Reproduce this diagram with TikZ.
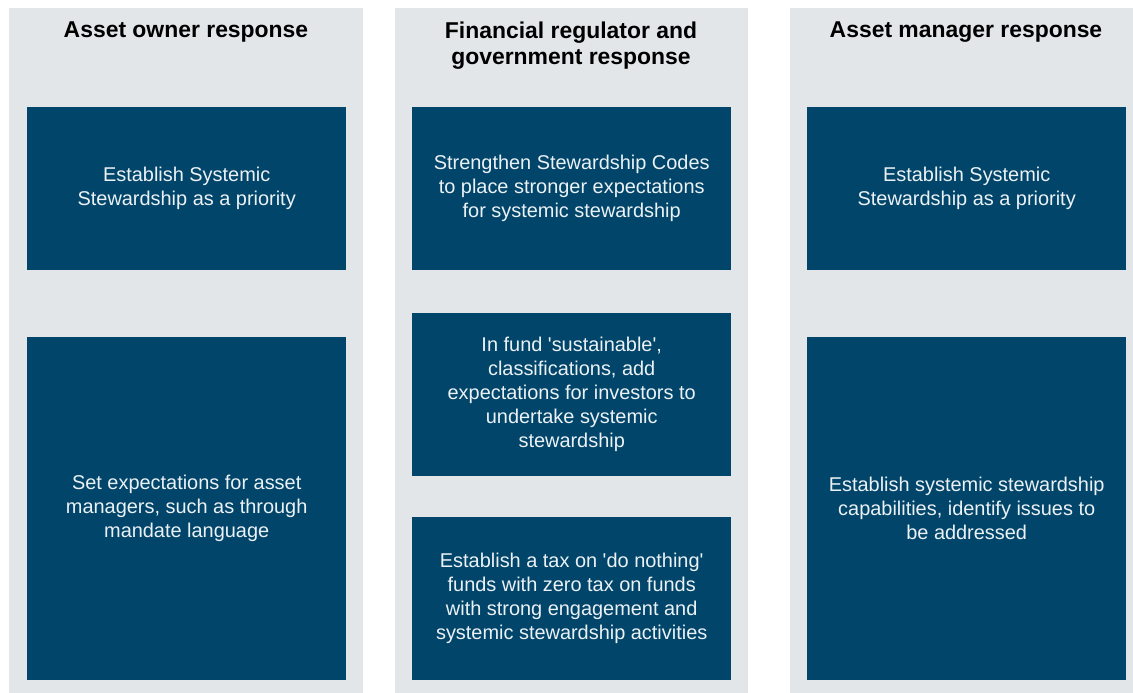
\documentclass[tikz,border=0pt]{standalone}
\usepackage{fontspec}
\setmainfont{Liberation Sans}[Ligatures=TeXOff]
\usetikzlibrary{positioning}
\definecolor{panelgrey}{RGB}{227,230,233}
\definecolor{navy}{RGB}{1,70,106}
\definecolor{boxtext}{RGB}{236,241,245}
\tikzstyle{panel} = [fill=panelgrey, draw=none]
\tikzstyle{head} = [font=\fontsize{23}{27}\selectfont\bfseries, align=center, anchor=base, inner sep=0pt]
\tikzstyle{item} = [fill=navy, text=boxtext, font=\fontsize{20}{24}\selectfont, align=center, minimum width=319bp, inner sep=0pt]

\begin{document}
\begin{tikzpicture}[x=1bp, y=-1bp]
                    \useasboundingbox (0,0) rectangle (1133,693);
                    % three columns
                    \fill[panel] (9,8) rectangle (363,693);
                    \fill[panel] (395,8) rectangle (748,693);
                    \fill[panel] (790,8) rectangle (1133,693);

                    % base of a two-line node is its last line
                    \node[head] (owner) at (186,38) {Asset owner response};
                    \node[head] (regulator) at (571,65) {Financial regulator and\\government response};
                    \node[head] (manager) at (966,38) {Asset manager response};

                    % asset owner
                    \node[item, anchor=north west, minimum height=163bp] (own1) at (27,107)
                        {Establish Systemic\\Stewardship as a priority};
                    \node[item, minimum height=343bp, below=66bp of own1] (own2)
                        {Set expectations for asset\\managers, such as through\\mandate language};

                    % regulator and government
                    \node[item, anchor=north west, minimum height=163bp] (reg1) at (412,107)
                        {Strengthen Stewardship Codes\\to place stronger expectations\\for systemic stewardship};
                    \node[item, minimum height=163bp, below=42bp of reg1] (reg2)
                        {In fund 'sustainable',\\classifications, add\\expectations for investors to\\undertake systemic\\stewardship};
                    \node[item, minimum height=163bp, below=41bp of reg2] (reg3)
                        {Establish a tax on 'do nothing'\\funds with zero tax on funds\\with strong engagement and\\systemic stewardship activities};

                    % asset manager
                    \node[item, anchor=north west, minimum height=163bp] (man1) at (807,107)
                        {Establish Systemic\\Stewardship as a priority};
                    \node[item, minimum height=343bp, below=66bp of man1] (man2)
                        {Establish systemic stewardship\\capabilities, identify issues to\\be addressed};
                \end{tikzpicture}
\end{document}
